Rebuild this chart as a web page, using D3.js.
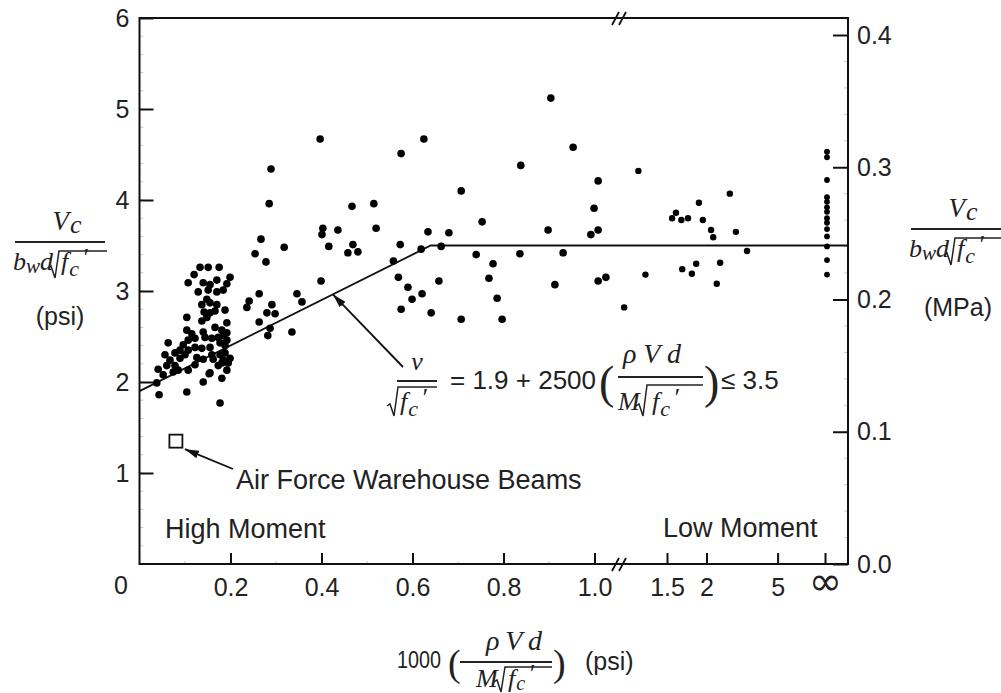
<!DOCTYPE html>
<html><head><meta charset="utf-8">
<script src="https://cdn.jsdelivr.net/npm/d3@7"></script>
<style>body{margin:0;background:#fff;} svg{display:block;}</style>
</head><body>
<svg id="chart" width="1001" height="693"></svg>
<script>
// ---------------- data ----------------
// x = 1000 * rho*V*d / (M*sqrt(fc')) , y = Vc/(bw d sqrt(fc')) in psi units
const highMomentTests = [
  [0.133,3.26],[0.151,3.26],[0.175,3.26],[0.120,3.18],[0.107,3.09],[0.140,3.09],[0.155,3.07],[0.170,3.12],
  [0.199,3.15],[0.192,3.08],[0.129,2.99],[0.151,3.01],[0.170,2.99],[0.184,3.01],[0.148,2.91],[0.137,2.85],
  [0.155,2.87],[0.170,2.85],[0.166,2.78],[0.188,2.79],[0.142,2.77],[0.155,2.76],[0.104,2.71],[0.137,2.67],
  [0.148,2.71],[0.192,2.65],[0.166,2.60],[0.181,2.57],[0.192,2.54],[0.104,2.57],[0.115,2.53],[0.122,2.48],
  [0.140,2.55],[0.144,2.49],[0.159,2.48],[0.173,2.49],[0.184,2.51],[0.192,2.46],[0.177,2.43],[0.188,2.40],
  [0.063,2.43],[0.096,2.41],[0.107,2.46],[0.089,2.35],[0.107,2.35],[0.122,2.38],[0.137,2.37],[0.155,2.38],
  [0.078,2.32],[0.056,2.30],[0.067,2.24],[0.089,2.26],[0.100,2.30],[0.126,2.27],[0.140,2.25],[0.159,2.30],
  [0.162,2.25],[0.177,2.30],[0.188,2.32],[0.199,2.26],[0.184,2.24],[0.195,2.21],[0.173,2.18],[0.192,2.13],
  [0.181,2.21],[0.041,2.14],[0.052,2.08],[0.060,2.18],[0.078,2.18],[0.085,2.13],[0.074,2.11],[0.107,2.13],
  [0.122,2.19],[0.155,2.10],[0.038,1.99],[0.043,1.86],[0.104,1.89],[0.140,2.00],[0.181,2.04],[0.177,1.77],
  [0.153,2.09]
];
const midRangeTests = [
  [0.267,3.57],[0.289,4.34],[0.285,3.96],[0.397,4.67],[0.401,3.62],[0.403,3.69],[0.436,3.67],[0.318,3.48],
  [0.254,3.41],[0.278,3.32],[0.416,3.49],[0.399,3.11],[0.263,2.97],[0.241,2.89],[0.236,2.82],[0.291,2.85],
  [0.280,2.76],[0.298,2.75],[0.263,2.66],[0.287,2.59],[0.282,2.51],[0.346,2.97],[0.357,2.88],[0.335,2.55],
  [0.467,3.93],[0.515,3.96],[0.520,3.69],[0.469,3.51],[0.458,3.42],[0.480,3.43],[0.575,4.51],[0.625,4.67],
  [0.573,3.51],[0.619,3.46],[0.663,3.49],[0.634,3.65],[0.680,3.64],[0.558,3.33],[0.569,3.15],[0.590,3.04],
  [0.599,2.91],[0.621,2.97],[0.575,2.80],[0.641,2.76],[0.658,3.11],
  [0.707,4.10],[0.753,3.76],[0.740,3.40],[0.777,3.30],[0.768,3.14],[0.786,2.92],[0.707,2.69],[0.797,2.69],
  [0.838,4.38],[0.836,3.41],[0.904,5.12],[0.898,3.67],[0.931,3.42],[0.913,3.07],[0.953,4.58],[1.008,4.21],
  [0.999,3.91],[0.992,3.62],[1.008,3.67],[1.008,3.11],[1.025,3.15]
];
const lowMomentTests = [
  [1.18,2.82],[1.32,3.18],[1.27,4.32],[1.55,3.80],[1.59,3.86],[1.65,3.78],[1.73,3.80],[1.88,3.97],
  [1.94,3.78],[1.66,3.24],[1.78,3.19],[1.84,3.30],[2.08,3.67],[2.12,3.59],[2.26,3.31],[2.19,3.08],
  [2.49,4.07],[2.66,3.65],[3.04,3.44]
];
const infiniteSpanTests = [4.53,4.47,4.22,4.03,3.98,3.92,3.87,3.80,3.75,3.68,3.60,3.49,3.34,3.18];
const airForceBeams = [[0.08,1.35]];
const designLine = [[0,1.9],[0.64,3.5],[1.0,3.5]]; // v/sqrt(fc') = 1.9 + 2500(...) <= 3.5
const xTicksLinear = [0.2,0.4,0.6,0.8,1.0];
const xTicksInverse = [1.5,2,5,Infinity];
const xTickLabels = {"0.2":"0.2","0.4":"0.4","0.6":"0.6","0.8":"0.8","1":"1.0","1.5":"1.5","2":"2","5":"5","Infinity":"\u221E"};
const yTicksPsi = [1,2,3,4,5,6];
const yTicksMPa = [0.0,0.1,0.2,0.3,0.4];

// ---------------- layout ----------------
const PL = 139.5, PR = 848, PT = 18, PB = 564;
const svg = d3.select("#chart");
const SANS = "'Liberation Sans', Arial, Helvetica, sans-serif";
const SERIF = "'Liberation Serif', 'Times New Roman', serif";

const xL = d3.scaleLinear().domain([0, 1]).range([PL, 594.5]);
const xR = d3.scaleLinear().domain([1/1.5, 0]).range([667, 825]); // in 1/x
const xPos = v => v <= 1.1 ? xL(v) : xR(1 / v);
const y = d3.scaleLinear().domain([0, 6]).range([PB, PT]);
const yR = d3.scaleLinear().domain([0, 0.4]).range([PB, 35]);

// minor ticks (faint)
const minor = svg.append("g").attr("stroke", "#c8c8c8").attr("stroke-width", 1);
d3.range(0.2, 6, 0.2).forEach(v => minor.append("line").attr("x1", PL).attr("x2", PL + 4).attr("y1", y(v)).attr("y2", y(v)));
d3.range(0.02, 0.4, 0.02).forEach(v => minor.append("line").attr("x1", PR - 4).attr("x2", PR).attr("y1", yR(v)).attr("y2", yR(v)));
d3.range(0.1, 1.0, 0.1).forEach(v => minor.append("line").attr("x1", xL(v)).attr("x2", xL(v)).attr("y1", PB).attr("y2", PB - 3));

// frame
const frame = svg.append("g").attr("stroke", "#111").attr("stroke-width", 2).attr("fill", "none");
frame.append("line").attr("x1", PL).attr("x2", PR).attr("y1", PT).attr("y2", PT);
frame.append("line").attr("x1", PL).attr("x2", PR).attr("y1", PB).attr("y2", PB);
frame.append("line").attr("x1", PL).attr("x2", PL).attr("y1", PT - 1).attr("y2", PB + 1);
frame.append("line").attr("x1", PR).attr("x2", PR).attr("y1", PT - 1).attr("y2", PB + 1);
// axis break marks
[PT, PB].forEach(yy => {
  [0, 7].forEach(d => frame.append("line").attr("x1", 612 + d).attr("y1", yy + 7).attr("x2", 619 + d).attr("y2", yy - 6).attr("stroke-width", 1.8));
});

function styleAxis(g, size) {
  g.select(".domain").remove();
  g.selectAll(".tick line").attr("stroke", "#111").attr("stroke-width", 2);
  g.selectAll(".tick text").attr("fill", "#222").attr("font-family", SANS).attr("font-size", size);
}
// left axis (psi)
svg.append("g").attr("transform", `translate(${PL},0)`)
  .call(d3.axisLeft(y).tickValues(yTicksPsi).tickFormat(d3.format("d")).tickSizeInner(-14).tickSizeOuter(0).tickPadding(10))
  .call(g => styleAxis(g, 25));
// right axis (MPa)
svg.append("g").attr("transform", `translate(${PR},0)`)
  .call(d3.axisRight(yR).tickValues(yTicksMPa).tickFormat(d3.format(".1f")).tickSizeInner(-15).tickSizeOuter(0).tickPadding(9))
  .call(g => styleAxis(g, 25));
// bottom axis, linear part
svg.append("g").attr("transform", `translate(0,${PB})`)
  .call(d3.axisBottom(xL).tickValues(xTicksLinear).tickFormat(v => xTickLabels[String(v)]).tickSizeInner(-11).tickSizeOuter(0).tickPadding(14))
  .call(g => styleAxis(g, 25));
// bottom axis, inverse part (1/x)
svg.append("g").attr("transform", `translate(0,${PB})`)
  .call(d3.axisBottom(xR).tickValues(xTicksInverse.map(v => 1 / v)).tickFormat(u => xTickLabels[String(1 / u)]).tickSizeInner(-11).tickSizeOuter(0).tickPadding(14))
  .call(g => styleAxis(g, 25))
  .call(g => g.selectAll(".tick text").filter(u => u === 0)
    .attr("font-family", "'DejaVu Sans', sans-serif").attr("font-size", 40).attr("dy", "0.42em"));
// origin label
svg.append("text").attr("x", 121).attr("y", 594).attr("text-anchor", "middle")
  .attr("font-family", SANS).attr("font-size", 25).attr("fill", "#222").text("0");

// design line
const line = d3.line().x(d => d[0]).y(d => d[1]);
const designPts = designLine.map(d => [xPos(d[0]), y(d[1])]);
designPts.push([PR, y(designLine[designLine.length - 1][1])]);
svg.append("path").attr("d", line(designPts)).attr("fill", "none").attr("stroke", "#111").attr("stroke-width", 1.8);

// data points
const dots = svg.append("g").attr("fill", "#000");
highMomentTests.concat(midRangeTests).forEach(d =>
  dots.append("circle").attr("cx", xPos(d[0])).attr("cy", y(d[1])).attr("r", 3.8));
lowMomentTests.forEach(d =>
  dots.append("circle").attr("cx", xPos(d[0])).attr("cy", y(d[1])).attr("r", 3.2));
infiniteSpanTests.forEach(v =>
  dots.append("circle").attr("cx", xPos(Infinity) + 2).attr("cy", y(v)).attr("r", 2.9));
airForceBeams.forEach(d =>
  svg.append("rect").attr("x", xPos(d[0]) - 6.5).attr("y", y(d[1]) - 6.5).attr("width", 13).attr("height", 13)
    .attr("fill", "none").attr("stroke", "#111").attr("stroke-width", 1.8));

// arrows
const defs = svg.append("defs");
defs.append("marker").attr("id", "arr").attr("viewBox", "0 0 14 8").attr("refX", 14).attr("refY", 4)
  .attr("markerWidth", 14).attr("markerHeight", 8).attr("markerUnits", "userSpaceOnUse").attr("orient", "auto")
  .append("path").attr("d", "M0,0 L14,4 L0,8 Z").attr("fill", "#111");
const arrowX = 0.425;
svg.append("line").attr("x1", 403).attr("y1", 367).attr("x2", xPos(arrowX)).attr("y2", y(1.9 + 2.5 * arrowX))
  .attr("stroke", "#111").attr("stroke-width", 1.8).attr("marker-end", "url(#arr)");
svg.append("line").attr("x1", 233).attr("y1", 469).attr("x2", xPos(airForceBeams[0][0]) + 9).attr("y2", y(airForceBeams[0][1]) + 8)
  .attr("stroke", "#111").attr("stroke-width", 1.8).attr("marker-end", "url(#arr)");

// ---------------- text ----------------
function txt(x, yy, s, opt = {}) {
  const t = svg.append("text").attr("x", x).attr("y", yy).attr("fill", "#222")
    .attr("font-family", opt.family || SANS).attr("font-size", opt.size || 26)
    .attr("font-style", opt.italic ? "italic" : "normal")
    .attr("text-anchor", opt.anchor || "start").text(s);
  if (opt.len) t.attr("textLength", opt.len).attr("lengthAdjust", "spacingAndGlyphs");
  return t;
}
txt(165, 538, "High Moment", {size: 27});
txt(663, 537, "Low Moment", {size: 27});
txt(236, 489, "Air Force Warehouse Beams", {size: 27});

function radical(x, yb, yt, x2) {
  svg.append("path").attr("d", `M${x},${yb - 10} L${x + 3},${yb - 12} L${x + 7},${yb} L${x + 11},${yt} L${x2},${yt}`)
    .attr("fill", "none").attr("stroke", "#222").attr("stroke-width", 1.5);
}
function richText(x, yy, parts, anchor, len) {
  const t = svg.append("text").attr("x", x).attr("y", yy).attr("fill", "#222").attr("text-anchor", anchor || "start");
  parts.forEach(p => t.append("tspan").attr("font-family", p.sans ? SANS : SERIF)
    .attr("font-style", p.sans ? "normal" : "italic").attr("font-size", p.size || 26)
    .attr("dy", p.dy || 0).attr("dx", p.dx || 0).text(p.t));
  if (len) t.attr("textLength", len).attr("lengthAdjust", "spacing");
  return t;
}
// "Vc / (bw d sqrt(fc'))" fraction block, bar at yBar, left edge x0
function vcFraction(x0, yBar) {
  richText(x0 + 52, yBar - 12, [{t: "V", size: 27}, {t: "c", dy: 3, dx: 1}], "middle");
  svg.append("line").attr("x1", x0).attr("x2", x0 + 90).attr("y1", yBar).attr("y2", yBar).attr("stroke", "#222").attr("stroke-width", 2);
  richText(x0 - 2, yBar + 28, [{t: "b"}, {t: "w", size: 21, dy: 3}, {t: "d", dy: -3}]);
  radical(x0 + 33, yBar + 36, yBar + 9, x0 + 92);
  richText(x0 + 46, yBar + 28, [{t: "f"}, {t: "c", size: 22, dy: 6, dx: 1}, {t: "\u2032", dy: -10, dx: 3}]);
}
vcFraction(15, 242);
txt(60, 325, "(psi)", {anchor: "middle", size: 25});
vcFraction(911, 229);
txt(958, 316, "(MPa)", {anchor: "middle", size: 25});

// equation annotation
richText(417, 370, [{t: "v"}], "middle");
svg.append("line").attr("x1", 397).attr("x2", 437).attr("y1", 381).attr("y2", 381).attr("stroke", "#222").attr("stroke-width", 2);
radical(387, 416, 387, 437);
richText(400, 410, [{t: "f"}, {t: "c", size: 22, dy: 6, dx: 1}, {t: "\u2032", dy: -10, dx: 3}]);
txt(450, 389, "= 1.9 + 2500", {size: 26});
txt(599, 398, "(", {size: 46, family: SERIF});
richText(623, 363, [{t: "\u03C1", size: 28}, {t: "V", size: 28}, {t: "d", size: 28}], "start", 58);
svg.append("line").attr("x1", 618).attr("x2", 703).attr("y1", 377).attr("y2", 377).attr("stroke", "#222").attr("stroke-width", 2);
richText(618, 410, [{t: "M"}]);
radical(636, 416, 385, 703);
richText(652, 410, [{t: "f"}, {t: "c", size: 22, dy: 6, dx: 1}, {t: "\u2032", dy: -10, dx: 3}]);
txt(704, 398, ")", {size: 46, family: SERIF});
txt(721, 389, "\u2264 3.5", {size: 26});

// x axis title
txt(397, 668, "1000", {size: 23, len: 44});
txt(448, 676, "(", {size: 38, family: SERIF});
richText(486, 650, [{t: "\u03C1", size: 28}, {t: "V", size: 28}, {t: "d", size: 28}], "start", 56);
svg.append("line").attr("x1", 460).attr("x2", 552).attr("y1", 662).attr("y2", 662).attr("stroke", "#222").attr("stroke-width", 2);
richText(476, 687, [{t: "M"}]);
radical(494, 692, 667, 552);
richText(508, 687, [{t: "f"}, {t: "c", size: 20, dy: 3, dx: 1}, {t: "\u2032", dy: -8, dx: 3}]);
txt(553, 676, ")", {size: 38, family: SERIF});
txt(585, 670, "(psi)", {size: 25});
</script>
</body></html>
